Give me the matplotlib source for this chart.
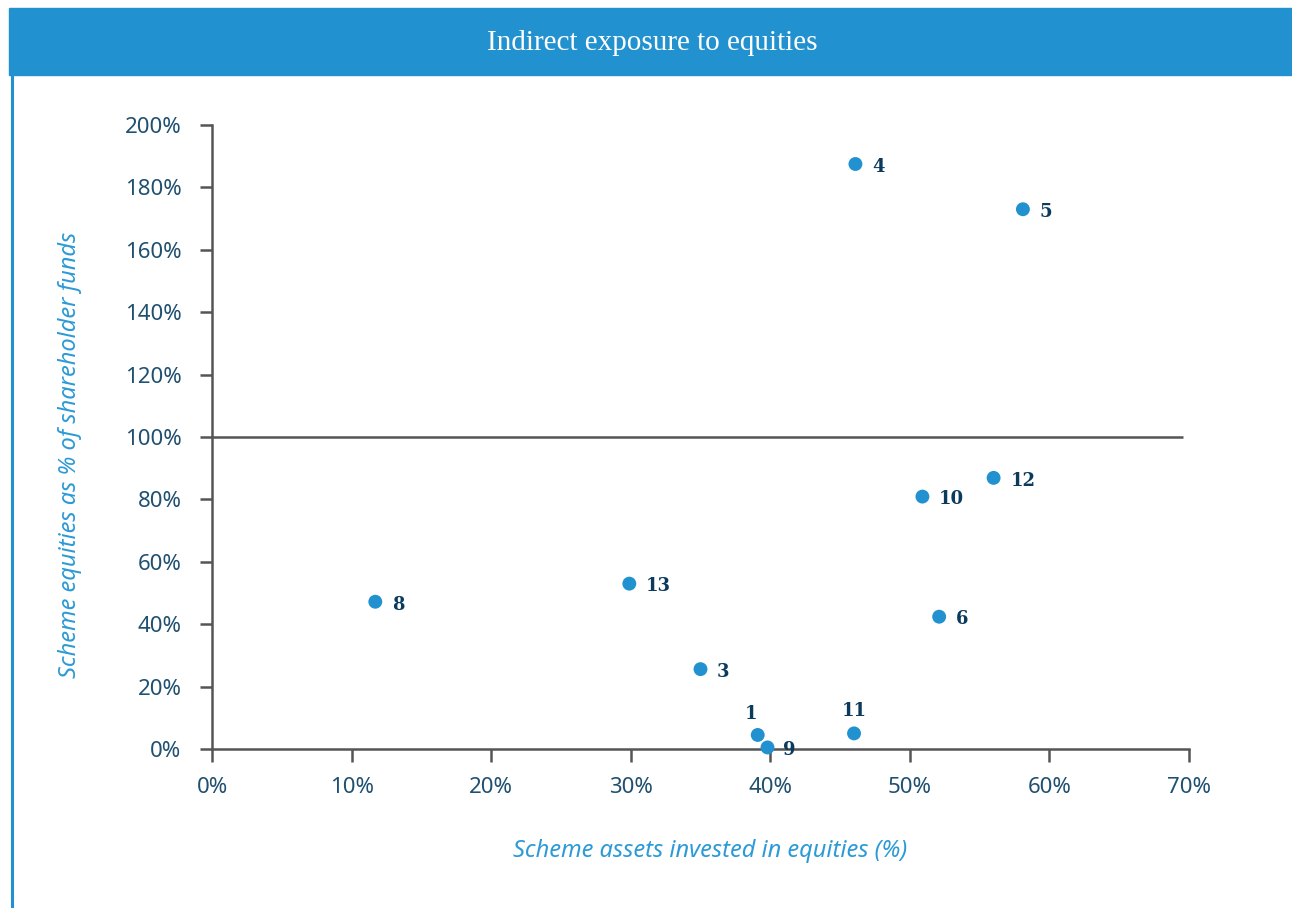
import matplotlib.pyplot as plt
from matplotlib.patches import Rectangle
from matplotlib.lines import Line2D
from matplotlib.ticker import FuncFormatter

# scheme data (percent)
schemes = ['1', '3', '4', '5', '6', '8', '9', '10', '11', '12', '13']
assets_in_equities = [39.1, 35.0, 46.1, 58.1, 52.1, 11.7, 39.8, 50.9, 46.0, 56.0, 29.9]
equities_vs_funds = [4.5, 25.6, 187.5, 173.0, 42.4, 47.2, 0.5, 80.9, 5.0, 86.9, 53.0]

label_offsets = {'1': (-5, 15), '11': (0, 16), '9': (11, -2)}

BLUE = '#2291d0'
NAVY = '#0b3a5c'
TICK_COL = '#1f5070'
AXIS_COL = '#555555'
FONT = 'Noto Sans'


def main():
    fig = plt.figure(figsize=(12.92, 9.08), dpi=100)

    # header bar and left rule
    fig.patches.append(Rectangle((9 / 1292, 1 - 75 / 908), 1, 67 / 908,
                                 transform=fig.transFigure, color=BLUE, zorder=0))
    fig.lines.append(Line2D([12 / 1292, 12 / 1292], [0, 1 - 75 / 908],
                            transform=fig.transFigure, color=BLUE, lw=2.2))
    fig.text(652 / 1292, 1 - 43 / 908, 'Indirect exposure to equities', color='white',
             fontsize=21, family='Liberation Serif', ha='center', va='center')

    ax = fig.add_axes([212 / 1292, 1 - 749 / 908, 977 / 1292, 624 / 908])
    ax.set_xlim(0, 70)
    ax.set_ylim(0, 200)
    ax.set_xticks(range(0, 71, 10))
    ax.set_yticks(range(0, 201, 20))
    ax.xaxis.set_major_formatter(FuncFormatter(lambda v, p: '%d%%' % v))
    ax.yaxis.set_major_formatter(FuncFormatter(lambda v, p: '%d%%' % v))

    for s in ['top', 'right']:
        ax.spines[s].set_visible(False)
    for s in ['left', 'bottom']:
        ax.spines[s].set_color(AXIS_COL)
        ax.spines[s].set_linewidth(1.8)
    ax.tick_params(direction='out', length=9, width=1.8, color=AXIS_COL,
                   labelcolor=TICK_COL, labelsize=16)
    ax.tick_params(axis='y', pad=13)
    ax.tick_params(axis='x', pad=11)
    for lbl in ax.get_xticklabels() + ax.get_yticklabels():
        lbl.set_family(FONT)

    ax.hlines(100, 0, 69.55, color=AXIS_COL, lw=1.8)

    ax.scatter(assets_in_equities, equities_vs_funds, s=100, color=BLUE,
               zorder=3, clip_on=False, edgecolors='none')
    for name, x, y in zip(schemes, assets_in_equities, equities_vs_funds):
        off = label_offsets.get(name, (12, -2))
        ha = 'center' if name in ('1', '11') else 'left'
        ax.annotate(name, (x, y), xytext=off, textcoords='offset points',
                    ha=ha, va='center', fontsize=13, fontweight='heavy',
                    family='DejaVu Serif', color=NAVY)

    fig.text(710 / 1292, 1 - 851 / 908, 'Scheme assets invested in equities (%)',
             color='#2c9ad6', fontsize=17, style='italic', family=FONT,
             ha='center', va='center')
    fig.text(70 / 1292, 1 - 455 / 908, 'Scheme equities as % of shareholder funds',
             color='#2c9ad6', fontsize=17, style='italic', family=FONT,
             ha='center', va='center', rotation=90)

    fig.savefig('out.png', dpi=100)


if __name__ == '__main__':
    main()
